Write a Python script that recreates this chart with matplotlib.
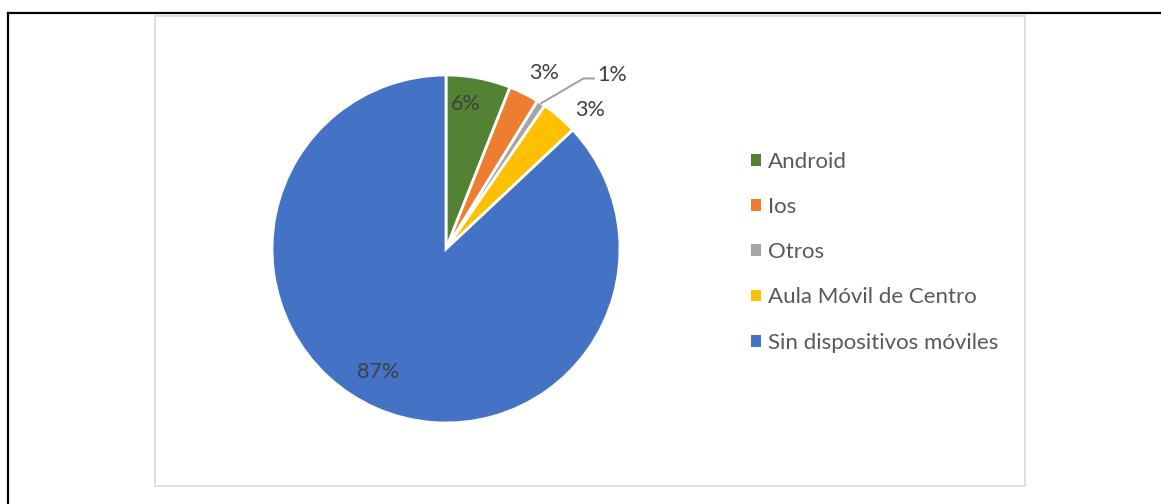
import numpy as np
import matplotlib.pyplot as plt
from matplotlib.patches import Rectangle
from matplotlib.lines import Line2D

plt.rcParams['font.family'] = ['Lato', 'DejaVu Sans']

labels = ["Android", "Ios", "Otros", "Aula Móvil de Centro", "Sin dispositivos móviles"]
shares = [6.0, 2.8, 0.8, 3.4, 87.0]
colors = ["#548235", "#ED7D31", "#A5A5A5", "#FFC000", "#4472C4"]
# percentage label placement: radius (1 = pie edge) and angular nudge in degrees
label_r = [0.84, 1.16, 1.30, 1.15, 0.81]
label_nudge = [3.0, -2.5, 0.0, -5.5, -5.6]

W, H = 1161, 504
fig = plt.figure(figsize=(W / 100, H / 100), dpi=100)

# page frame and chart border
fig.add_artist(Line2D([8 / W, 8 / W], [0, 1 - 13 / H], color="black", lw=1.6))
fig.add_artist(Line2D([8 / W, 1], [1 - 13 / H, 1 - 13 / H], color="black", lw=1.6))
fig.add_artist(Rectangle((155 / W, 1 - 486 / H), 870 / W, 470 / H, fill=False,
                         edgecolor="#D9D9D9", lw=1.2))

cx, cy, r = 446, 249, 174
ax = fig.add_axes([(cx - r) / W, 1 - (cy + r) / H, 2 * r / W, 2 * r / H])
wedges, _ = ax.pie(shares, colors=colors, startangle=90, counterclock=False,
                   wedgeprops=dict(edgecolor="white", linewidth=2))
ax.set_xlim(-1, 1)
ax.set_ylim(-1, 1)
ax.set_aspect("equal")
ax.axis("off")

total = sum(shares)
cum = 0
for i, v in enumerate(shares):
    mid = 90 - (cum + v / 2) / total * 360
    cum += v
    a = np.deg2rad(mid)
    txt = f"{v / total * 100:.0f}%"
    if labels[i] == "Otros":
        # leader line for the thin slice
        x0, y0 = np.cos(a) * 1.0, np.sin(a) * 1.0
        ax.plot([x0, 0.79, 0.85], [y0, 0.98, 0.98], color="#A5A5A5", lw=1.5, clip_on=False)
        ax.text(0.87, 1.0, txt, ha="left", va="center", fontsize=15.5, color="#404040")
        continue
    b = a + np.deg2rad(label_nudge[i])
    ax.text(np.cos(b) * label_r[i], np.sin(b) * label_r[i], txt, ha="center", va="center",
            fontsize=15.5, color="#404040")

handles = [Rectangle((0, 0), 1, 1, facecolor=c, edgecolor="none") for c in colors]
fig.legend(handles, labels, loc="upper left", bbox_to_anchor=(740 / W, 1 - 141 / H),
           frameon=False, fontsize=16, labelcolor="#595959", handlelength=0.45,
           handleheight=0.45, handletextpad=0.32, labelspacing=1.13, borderpad=0)

fig.savefig("out.png", dpi=100, facecolor="white")
